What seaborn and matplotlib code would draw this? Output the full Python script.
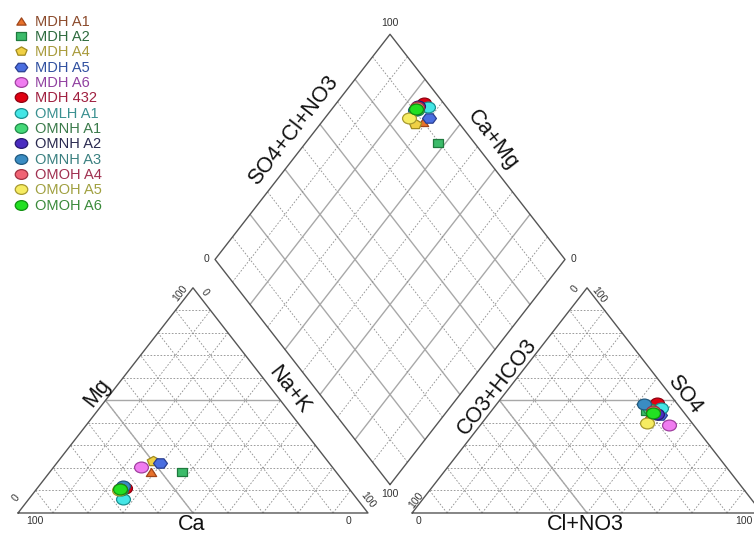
import numpy as np
import pandas as pd
import matplotlib
matplotlib.use("Agg")
import matplotlib.pyplot as plt
import seaborn as sns
from matplotlib.markers import MarkerStyle
from matplotlib.transforms import Affine2D
from matplotlib.lines import Line2D

# ---- data (percent of meq) ----
samples = ["MDH A1", "MDH A2", "MDH A4", "MDH A5", "MDH A6", "MDH 432",
           "OMLH A1", "OMNH A1", "OMNH A2", "OMNH A3", "OMOH A4",
           "OMOH A5", "OMOH A6"]
ca   = [53.0, 44.0, 50.0, 48.5, 54.5, 64.0, 67.0, 65.5, 65.5, 64.0, 65.5, 66.0, 65.5]
mg   = [18.0, 18.0, 23.0, 22.0, 20.5, 11.0,  6.0, 10.0, 10.5, 12.0, 10.5, 10.0, 10.5]
nak  = [29.0, 38.0, 27.0, 29.5, 25.0, 25.0, 27.0, 24.5, 24.0, 24.0, 24.0, 24.0, 24.0]
cl   = [46.0, 44.0, 47.0, 49.0, 54.0, 45.5, 48.0, 45.0, 48.0, 42.0, 46.0, 47.0, 46.5]
so4  = [44.0, 45.5, 40.0, 43.5, 39.0, 49.0, 46.5, 46.0, 44.0, 48.5, 45.5, 40.0, 44.5]
hco3 = [10.0, 10.5, 13.0,  7.5,  7.0,  5.5,  5.5,  9.0,  8.0,  9.5,  8.5, 13.0,  9.0]

# ---- styles ----
fill_colors = ["#e8722c", "#3cbb6a", "#f0d044", "#4a6ee0", "#f07cf0", "#e00012",
               "#44e6e6", "#44d878", "#4a2cc0", "#3a8cc2", "#f06474", "#f6ec62",
               "#22e022"]
edge_colors = ["#a0461a", "#1f7a3e", "#a08a20", "#2a3e90", "#a040a0", "#900010",
               "#1a9090", "#208a48", "#281870", "#205a80", "#a03040", "#a89a30",
               "#109010"]
text_colors = ["#8b4a2b", "#2e6b3e", "#a89a3a", "#3050a0", "#9040a0", "#a02040",
               "#3a9090", "#3a7a4a", "#2a2a50", "#3a8080", "#a03050", "#a0a040",
               "#3a8a3a"]
marker_kinds = ["^", "s", "p", "H", "o", "o", "o", "o", "o", "o", "o", "o", "o"]
marker_sizes = [55, 52, 80, 100, 100, 100, 100, 100, 100, 100, 100, 100, 100]

SQUASH = 0.78          # the original picture is stretched horizontally
o = 0.063              # half gap between triangles
h = np.sqrt(3) / 2
oy = o * np.sqrt(3)
xr = 1 + 2 * o         # x of right triangle


def squashed(m):
    ms = MarkerStyle(m)
    p = ms.get_path().transformed(ms.get_transform())
    return p.transformed(Affine2D().scale(1, SQUASH))


def cation_xy(c, m, n):
    t = c + m + n
    return (n + 0.5 * m) / t, m / t * h


def anion_xy(cl_, s, hc):
    t = cl_ + s + hc
    return xr + (cl_ + 0.5 * s) / t, s / t * h


def diamond_xy(a, s):
    return 1 + o + 0.5 * (s - a), oy + h * (a + s)


rows = []
for i, name in enumerate(samples):
    x1, y1 = cation_xy(ca[i], mg[i], nak[i])
    x2, y2 = anion_xy(cl[i], so4[i], hco3[i])
    a = (ca[i] + mg[i]) / (ca[i] + mg[i] + nak[i])
    s = (so4[i] + cl[i]) / (cl[i] + so4[i] + hco3[i])
    x3, y3 = diamond_xy(a, s)
    rows += [(name, "cation", x1, y1), (name, "anion", x2, y2), (name, "diamond", x3, y3)]
df = pd.DataFrame(rows, columns=["sample", "panel", "x", "y"])

sns.set_style("white")
plt.rcParams["font.family"] = ["Liberation Sans", "DejaVu Sans"]

fig = plt.figure(figsize=(7.54, 5.34), dpi=100)
ax = fig.add_axes([0, 0, 1, 1])

GRID = dict(color="#8c8c8c", lw=0.6, ls=(0, (2, 2)), zorder=1)
FAC = dict(color="#a8a8a8", lw=1.0, zorder=1)
EDGE = dict(color="#555555", lw=1.0, zorder=2)


def triangle(x0):
    for t in np.arange(1, 10) / 10:
        ax.plot([x0 + t / 2, x0 + 1 - t / 2], [t * h, t * h], **GRID)
        ax.plot([x0 + t, x0 + t + (1 - t) / 2], [0, (1 - t) * h], **GRID)
        ax.plot([x0 + t, x0 + t / 2], [0, t * h], **GRID)
    ax.plot([x0 + 0.25, x0 + 0.75], [h / 2, h / 2], **FAC)
    ax.plot([x0 + 0.5, x0 + 0.25], [0, h / 2], **FAC)
    ax.plot([x0, x0 + 1, x0 + 0.5, x0], [0, 0, h, 0], **EDGE)


triangle(0)
triangle(xr)

# diamond
for t in np.arange(1, 10) / 10:
    style = FAC if round(t * 10) % 2 == 0 else GRID
    p0, p1 = diamond_xy(t, 0), diamond_xy(t, 1)
    ax.plot([p0[0], p1[0]], [p0[1], p1[1]], **style)
    p0, p1 = diamond_xy(0, t), diamond_xy(1, t)
    ax.plot([p0[0], p1[0]], [p0[1], p1[1]], **style)
corners = [diamond_xy(0, 0), diamond_xy(1, 0), diamond_xy(1, 1), diamond_xy(0, 1), diamond_xy(0, 0)]
ax.plot([c[0] for c in corners], [c[1] for c in corners], **EDGE)

# points
paths = [squashed(m) for m in marker_kinds]
for i, name in enumerate(samples):
    sub = df[df["sample"] == name]
    sns.scatterplot(data=sub, x="x", y="y", marker=paths[i], s=marker_sizes[i],
                    color=fill_colors[i], edgecolor=edge_colors[i], linewidth=0.9,
                    ax=ax, legend=False, zorder=5)
ax.set_xlim(-0.0514, 2.103)
ax.set_ylim(-0.0808, 1.973)
ax.axis("off")

# tick labels
TK = dict(fontsize=7.5, color="#333333", ha="center", va="center")
ANG = 52
ax.text(0.049, -0.031, "100", **TK)
ax.text(0.943, -0.031, "0", **TK)
ax.text(-0.006, 0.058, "0", rotation=ANG, **TK)
ax.text(0.463, 0.846, "100", rotation=ANG, **TK)
ax.text(0.533, 0.85, "0", rotation=-ANG, **TK)
ax.text(1.0, 0.05, "100", rotation=-ANG, **TK)
ax.text(xr + 0.017, -0.031, "0", **TK)
ax.text(2.1, -0.031, "100", fontsize=7.5, color="#333333", ha="right", va="center")
ax.text(xr + 0.012, 0.05, "100", rotation=ANG, **TK)
ax.text(xr + 0.466, 0.862, "0", rotation=ANG, **TK)
ax.text(xr + 0.533, 0.838, "100", rotation=-ANG, **TK)
top = diamond_xy(1, 1)
ax.text(top[0], top[1] + 0.045, "100", **TK)
lft = diamond_xy(1, 0)
ax.text(lft[0] - 0.025, lft[1], "0", **TK)
rgt = diamond_xy(0, 1)
ax.text(rgt[0] + 0.025, rgt[1], "0", **TK)
bot = diamond_xy(0, 0)
ax.text(bot[0], bot[1] - 0.035, "100", **TK)

# axis titles
AX = dict(fontsize=15.5, color="#111111", ha="center", va="center")
ax.text(0.226, 0.462, "Mg", rotation=ANG, **AX)
ax.text(0.774, 0.473, "Na+K", rotation=-ANG, **AX)
ax.text(0.497, -0.0654, "Ca", fontsize=15.5, color="#111111", ha="center", va="baseline")
ax.text(1.369, 0.485, "CO3+HCO3", rotation=ANG, **AX)
ax.text(1.906, 0.454, "SO4", rotation=-ANG, **AX)
ax.text(1.62, -0.0654, "Cl+NO3", fontsize=15.5, color="#111111", ha="center", va="baseline")
ax.text(0.786, 1.473, "SO4+Cl+NO3", rotation=ANG, **AX)
ax.text(1.357, 1.435, "Ca+Mg", rotation=-ANG, **AX)

# legend
handles = [Line2D([], [], ls="none", marker=paths[i], markersize=np.sqrt(marker_sizes[i]) * 0.9,
                  markerfacecolor=fill_colors[i], markeredgecolor=edge_colors[i],
                  markeredgewidth=0.9) for i in range(len(samples))]
leg = ax.legend(handles, samples, loc="upper left", bbox_to_anchor=(0.0, 1.0),
                bbox_transform=fig.transFigure, frameon=False, fontsize=10.5,
                handlelength=0.9, handletextpad=0.45, labelspacing=0.09,
                borderaxespad=0.62, borderpad=0.4)
for txt, c in zip(leg.get_texts(), text_colors):
    txt.set_color(c)

fig.savefig("out.png", dpi=100)
